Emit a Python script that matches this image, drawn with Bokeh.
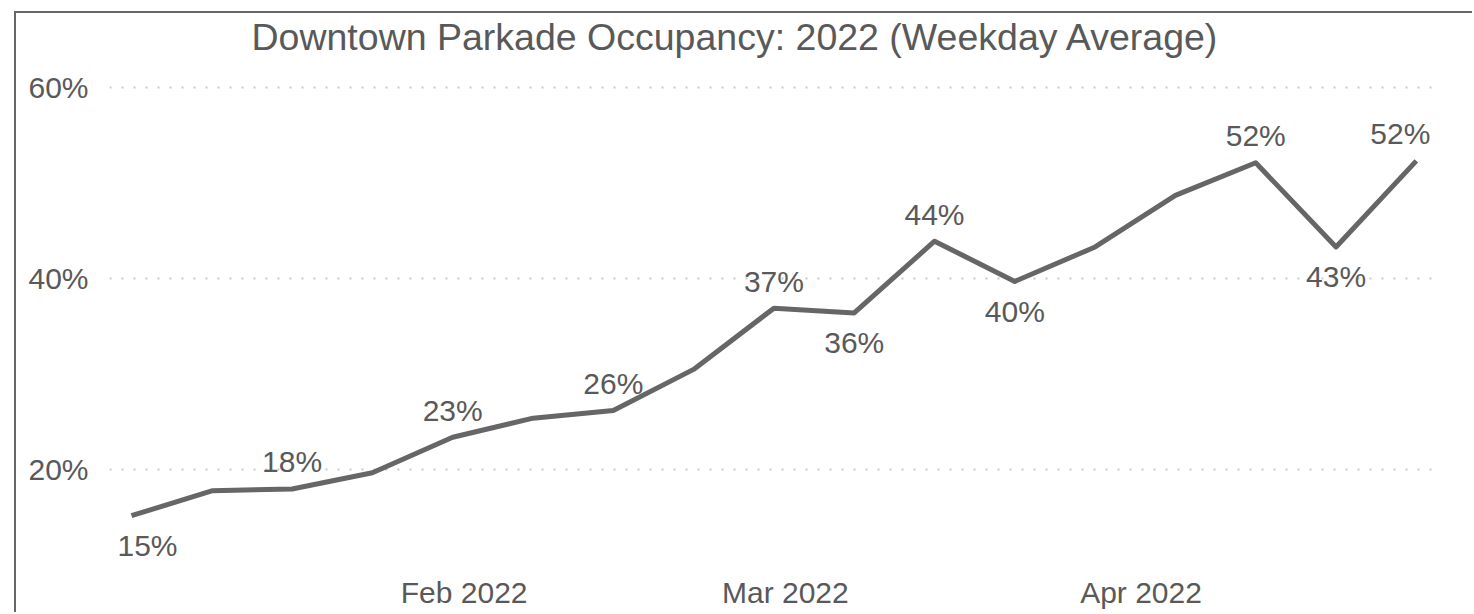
from datetime import timedelta

import pandas as pd
from bokeh.core.properties import value
from bokeh.embed import file_html
from bokeh.models import (ColumnDataSource, DatetimeTickFormatter, FixedTicker,
                          NumeralTickFormatter, Range1d)
from bokeh.plotting import figure
from bokeh.resources import INLINE

# ---------------- data ----------------
chart_title = "Downtown Parkade Occupancy: 2022 (Weekday Average)"
weeks = ["2022-01-03", "2022-01-10", "2022-01-17", "2022-01-24", "2022-01-31",
         "2022-02-07", "2022-02-14", "2022-02-21", "2022-02-28", "2022-03-07",
         "2022-03-14", "2022-03-21", "2022-03-28", "2022-04-04", "2022-04-11",
         "2022-04-18", "2022-04-25"]
occupancy = [0.152, 0.178, 0.180, 0.197, 0.234, 0.254, 0.262, 0.305, 0.369,
             0.364, 0.439, 0.397, 0.433, 0.487, 0.521, 0.433, 0.523]
labeled_points = [0, 2, 4, 6, 8, 9, 10, 11, 14, 15, 16]
label_above = [False, True, True, True, True, False, True, False, True, False, True]
month_ticks = ["2022-02-01", "2022-03-01", "2022-04-01"]
y_ticks = [0.2, 0.4, 0.6]

# ---------------- styling ----------------
FONT = "Liberation Sans"
TEXT = "#595959"
LINE = "#666666"

dates = pd.to_datetime(weeks)
tick_ms = [float(t.value // 10**6) for t in pd.to_datetime(month_ticks)]

p = figure(
    width=1458, height=601,
    x_axis_type="datetime",
    x_range=Range1d(dates[0] - timedelta(hours=46), dates[-1] + timedelta(hours=38)),
    y_range=Range1d(0.1052, 0.6269),
    output_backend="svg", toolbar_location=None,
    min_border_left=93, min_border_right=40, min_border_top=48, min_border_bottom=54,
)
p.styles = {"position": "relative", "left": "14px", "top": "11px",
            "border-left": "2px solid #666666", "border-top": "2px solid #666666"}
p.outline_line_color = None
p.background_fill_color = "white"
p.border_fill_color = "white"

p.title.text = chart_title
p.title.text_font = FONT
p.title.text_font_size = "37.5px"
p.title.text_font_style = "normal"
p.title.text_color = TEXT
p.title.align = "left"
p.title.offset = 142
p.title.vertical_align = "top"
p.title.standoff = 4

# axes
for ax in (p.xaxis[0], p.yaxis[0]):
    ax.axis_line_color = None
    ax.major_tick_line_color = None
    ax.minor_tick_line_color = None
    ax.major_tick_in = 0
    ax.major_tick_out = 0
    ax.minor_tick_in = 0
    ax.minor_tick_out = 0
    ax.major_label_text_font = FONT
    ax.major_label_text_font_size = "30px"
    ax.major_label_text_color = TEXT

p.xaxis[0].ticker = FixedTicker(ticks=tick_ms)
p.xaxis[0].formatter = DatetimeTickFormatter(days="%b %Y", months="%b %Y", years="%b %Y")
p.xaxis[0].major_label_standoff = 15
p.yaxis[0].ticker = FixedTicker(ticks=y_ticks)
p.yaxis[0].formatter = NumeralTickFormatter(format="0%")
p.yaxis[0].major_label_standoff = 21

p.xgrid.grid_line_color = None
p.ygrid.grid_line_color = "#c8c8c8"
p.ygrid.grid_line_width = 2
p.ygrid.grid_line_dash = "2 10"

# line
src = ColumnDataSource(dict(x=dates, y=occupancy))
p.line("x", "y", source=src, line_color=LINE, line_width=5, line_join="round")

# labels
lx = [dates[i] for i in labeled_points]
ly = [occupancy[i] for i in labeled_points]
lt = [f"{round(occupancy[i] * 100)}%" for i in labeled_points]
x_off = []
for i in labeled_points:
    if i == 0:
        x_off.append(16)
    elif i == len(weeks) - 1:
        x_off.append(-16)
    else:
        x_off.append(0)
y_off = [-27 if a else 30 for a in label_above]
lsrc = ColumnDataSource(dict(x=lx, y=ly, t=lt, xo=x_off, yo=y_off))
p.text("x", "y", text="t", source=lsrc, x_offset="xo", y_offset="yo",
       text_align="center", text_baseline="middle",
       text_font=value(FONT), text_font_size="30px", text_color=TEXT)

open("out.html", "w").write(file_html(p, INLINE))
